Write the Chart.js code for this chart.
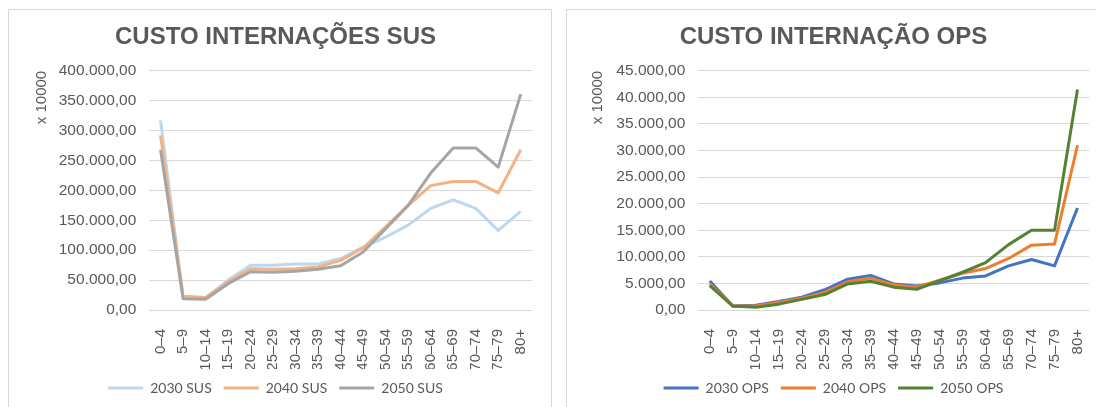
<!DOCTYPE html>
<html>
<head>
<meta charset="utf-8">
<script src="https://cdn.jsdelivr.net/npm/chart.js@4"></script>
<style>
	body { margin: 0; background: #fff; overflow: hidden; width: 1096px; height: 407px; position: relative; }
	.caixa { position: absolute; top: 9px; border: 1px solid #d9d9d9; background: #fff; }
	#caixaSus { left: 8px; width: 542px; height: 400px; }
	#caixaOps { left: 566px; width: 540px; height: 400px; }
</style>
</head>
<body>
<div class="caixa" id="caixaSus"><canvas id="custoSus" width="542" height="397"></canvas></div>
<div class="caixa" id="caixaOps"><canvas id="custoOps" width="540" height="397"></canvas></div>
<script>
	// Faixas etarias
	var faixas = ['0–4', '5–9', '10–14', '15–19', '20–24', '25–29', '30–34', '35–39', '40–44',
		'45–49', '50–54', '55–59', '60–64', '65–69', '70–74', '75–79', '80+'];

	// Custo internacoes SUS (x 10000)
	var sus2030 = [317000, 22000, 20000, 50000, 75000, 75000, 77000, 77000, 86000, 105000, 122000, 142000, 170000, 184000, 170000, 133000, 165000];
	var sus2040 = [292000, 23000, 21000, 47000, 69000, 68000, 69000, 72000, 83000, 104000, 139000, 175000, 208000, 215000, 215000, 196000, 268000];
	var sus2050 = [268000, 19000, 18000, 44000, 64000, 63000, 65000, 68000, 74000, 97000, 136000, 175000, 229000, 271000, 271000, 239000, 361000];

	// Custo internacao OPS (x 10000)
	var ops2030 = [5450, 750, 900, 1600, 2400, 3800, 5800, 6500, 4900, 4500, 5100, 6000, 6400, 8300, 9500, 8300, 19200];
	var ops2040 = [4900, 750, 750, 1400, 2200, 3300, 5300, 6000, 4700, 4300, 5600, 6900, 7800, 9700, 12200, 12400, 31000];
	var ops2050 = [4600, 750, 500, 1100, 2000, 2900, 4900, 5400, 4300, 3900, 5500, 7100, 8900, 12300, 15000, 15000, 41500];

	var seriesSus = ['2030 SUS', '2040 SUS', '2050 SUS'];
	var seriesOps = ['2030 OPS', '2040 OPS', '2050 OPS'];

	var cinza = '#595959';

	function formatoBR(v) {
		var partes = v.toFixed(2).split('.');
		partes[0] = partes[0].replace(/\B(?=(\d{3})+(?!\d))/g, '.');
		return partes[0] + ',' + partes[1];
	}

	function linha(nome, valores, cor, ordem) {
		return {
			label: nome,
			data: valores,
			borderColor: cor,
			backgroundColor: cor,
			borderWidth: 3,
			borderJoinStyle: 'round',
			pointRadius: 0,
			tension: 0,
			order: ordem
		};
	}

	function opcoes(titulo, maximo, passo, larguraY, padTitulo, padDireita) {
		return {
			responsive: false,
			animation: false,
			layout: { padding: { left: 10, right: padDireita, top: 0, bottom: 2 } },
			plugins: {
				title: {
					display: true,
					text: titulo,
					color: cinza,
					font: { family: 'Liberation Sans, Arial', size: 24, weight: 'bold' },
					padding: { top: 13, bottom: 19 }
				},
				legend: {
					position: 'bottom',
					labels: {
						usePointStyle: true,
						pointStyle: 'line',
						pointStyleWidth: 35,
						padding: 12,
						color: cinza,
						font: { family: 'Lato', size: 14 },
						sort: function(a, b) { return a.datasetIndex - b.datasetIndex; }
					}
				},
				tooltip: { enabled: false }
			},
			scales: {
				x: {
					offset: true,
					grid: { display: false },
					border: { display: false },
					ticks: {
						minRotation: 90,
						maxRotation: 90,
						autoSkip: false,
						padding: 11,
						color: cinza,
						font: { family: 'Liberation Sans, Arial', size: 15 }
					},
					afterFit: function(scale) { scale.height = 59; }
				},
				y: {
					min: 0,
					max: maximo,
					grid: { color: '#d9d9d9', drawTicks: false },
					border: { display: false },
					ticks: {
						stepSize: passo,
						padding: 13,
						color: cinza,
						font: { family: 'Liberation Sans, Arial', size: 15.5 },
						callback: function(v) { return formatoBR(v); }
					},
					title: {
						display: true,
						text: 'x 10000',
						align: 'end',
						color: cinza,
						font: { family: 'Liberation Sans, Arial', size: 15 },
						padding: { top: padTitulo, bottom: 0 }
					},
					afterFit: function(scale) { scale.width = larguraY; }
				}
			}
		};
	}

	//Grafico de linha (SUS)
	let ctxSus = document.getElementById('custoSus');
	let graficoSus = new Chart(ctxSus, {
		type: 'line',
		data: {
			labels: faixas,
			datasets: [
				linha(seriesSus[0], sus2030, '#bdd7ee', 3),
				linha(seriesSus[1], sus2040, '#f4b183', 2),
				linha(seriesSus[2], sus2050, '#a5a5a5', 1)
			]
		},
		options: opcoes('CUSTO INTERNAÇÕES SUS', 400000, 50000, 130.3, 14, 19)
	});

	//Grafico de linha (OPS)
	let ctxOps = document.getElementById('custoOps');
	let graficoOps = new Chart(ctxOps, {
		type: 'line',
		data: {
			labels: faixas,
			datasets: [
				linha(seriesOps[0], ops2030, '#4472c4', 3),
				linha(seriesOps[1], ops2040, '#ed7d31', 2),
				linha(seriesOps[2], ops2050, '#548235', 1)
			]
		},
		options: opcoes('CUSTO INTERNAÇÃO OPS', 45000, 5000, 121.3, 12, 17)
	});
</script>
</body>
</html>
